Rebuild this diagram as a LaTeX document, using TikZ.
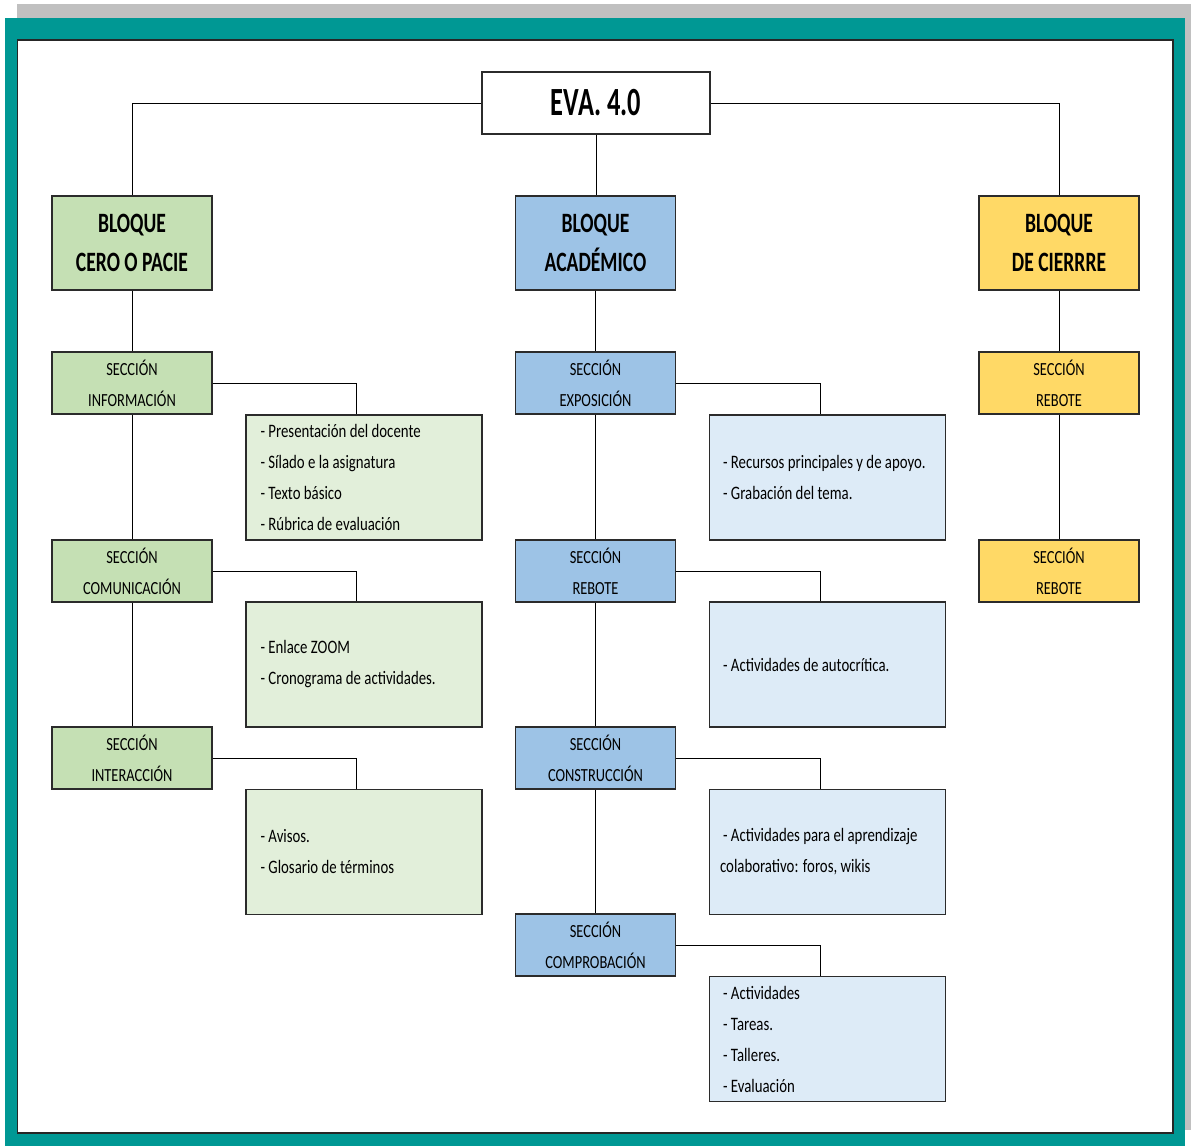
\documentclass[tikz,border=0pt]{standalone}
\usepackage{fontspec}
\setmainfont{Carlito}[FakeStretch=0.78]
\newfontfamily\blfont{Carlito}[FakeStretch=0.70]
\newfontfamily\evafont{Carlito}[FakeStretch=0.66]
\definecolor{greyc}{HTML}{C0C0C0}
\definecolor{tealc}{HTML}{009894}
\definecolor{gdark}{HTML}{C5E0B4}
\definecolor{glight}{HTML}{E2EFDA}
\definecolor{bdark}{HTML}{9DC3E6}
\definecolor{blight}{HTML}{DDEBF7}
\definecolor{ydark}{HTML}{FFD966}
\definecolor{edgec}{HTML}{2B2B2B}
\begin{document}
\begin{tikzpicture}[x=1pt,y=-1pt,
  box/.style={draw=edgec, line width=1.3pt, rectangle, inner sep=0pt, text=black},
  evabox/.style={box, fill=white, minimum width=228pt, minimum height=62pt, font=\evafont\fontsize{40}{44}\selectfont\bfseries},
  bloque/.style={box, minimum width=160pt, minimum height=94pt, align=center, font=\blfont\fontsize{28}{39}\selectfont\bfseries},
  seccion/.style={box, minimum width=160pt, minimum height=62pt, align=center, font=\fontsize{18.5}{31}\selectfont},
  detalle/.style={box, minimum width=236pt, minimum height=125pt},
  dtext/.style={anchor=west, inner sep=0pt, align=left, font=\fontsize{19}{31}\selectfont},
  link/.style={draw=black, line width=1pt}
]
\useasboundingbox (0,0) rectangle (1191,1146);
\fill[greyc] (17,4) rectangle (1191,1130);
\fill[tealc] (5,18) rectangle (1185,1146);
\draw[fill=white, draw=black!85, line width=1.5pt] (17.5,40) rectangle (1173,1133);

% top
\node[evabox] (eva) at (596,103) {EVA. 4.0};

% bloques
\node[bloque, fill=gdark] (b1) at (132,243) {BLOQUE\\CERO O PACIE};
\node[bloque, fill=bdark] (b2) at (595.5,243) {BLOQUE\\ACADÉMICO};
\node[bloque, fill=ydark] (b3) at (1059,243) {BLOQUE\\DE CIERRRE};

% secciones left
\node[seccion, fill=gdark] (s11) at (132,383) {SECCIÓN\\INFORMACIÓN};
\node[seccion, fill=gdark] (s12) at (132,571) {SECCIÓN\\COMUNICACIÓN};
\node[seccion, fill=gdark] (s13) at (132,758) {SECCIÓN\\INTERACCIÓN};
% secciones center
\node[seccion, fill=bdark] (s21) at (595.5,383) {SECCIÓN\\EXPOSICIÓN};
\node[seccion, fill=bdark] (s22) at (595.5,571) {SECCIÓN\\REBOTE};
\node[seccion, fill=bdark] (s23) at (595.5,758) {SECCIÓN\\CONSTRUCCIÓN};
\node[seccion, fill=bdark] (s24) at (595.5,945) {SECCIÓN\\COMPROBACIÓN};
% secciones right
\node[seccion, fill=ydark] (s31) at (1059,383) {SECCIÓN\\REBOTE};
\node[seccion, fill=ydark] (s32) at (1059,571) {SECCIÓN\\REBOTE};

% detalles left
\node[detalle, fill=glight] (d11) at (364,477.5) {};
\node[detalle, fill=glight] (d12) at (364,664.5) {};
\node[detalle, fill=glight] (d13) at (364,852) {};
% detalles center
\node[detalle, fill=blight] (d21) at (827.5,477.5) {};
\node[detalle, fill=blight] (d22) at (827.5,664.5) {};
\node[detalle, fill=blight] (d23) at (827.5,852) {};
\node[detalle, fill=blight] (d24) at (827.5,1039) {};

% texts
\node[dtext] (t11) at ([xshift=15pt]d11.west) {- Presentación del docente\\- Sílado e la asignatura\\- Texto básico\\- Rúbrica de evaluación};
\node[dtext] (t12) at ([xshift=15pt]d12.west) {- Enlace ZOOM\\- Cronograma de actividades.};
\node[dtext] (t13) at ([xshift=15pt]d13.west) {- Avisos.\\- Glosario de términos};
\node[dtext] (t21) at ([xshift=14pt]d21.west) {- Recursos principales y de apoyo.\\- Grabación del tema.};
\node[dtext] (t22) at ([xshift=14pt]d22.west) {- Actividades de autocrítica.};
\node[dtext] (t23) at ([xshift=11pt]d23.west) {\hspace*{3pt}- Actividades para el aprendizaje\\colaborativo: foros, wikis};
\node[dtext] (t24) at ([xshift=14pt]d24.west) {- Actividades\\- Tareas.\\- Talleres.\\- Evaluación};

% connectors from top
\draw[link] (eva.west) -| (b1.north);
\draw[link] (eva.east) -| (b3.north);
\draw[link] (eva.south) -- (eva.south |- b2.north);

% vertical chains
\draw[link] (b1.south) -- (s11.north);
\draw[link] (s11.south) -- (s12.north);
\draw[link] (s12.south) -- (s13.north);
\draw[link] (b2.south) -- (s21.north);
\draw[link] (s21.south) -- (s22.north);
\draw[link] (s22.south) -- (s23.north);
\draw[link] (s23.south) -- (s24.north);
\draw[link] (b3.south) -- (s31.north);
\draw[link] (s31.south) -- (s32.north);

% section to detail
\draw[link] (s11.east) -| ([xshift=-7.5pt]d11.north);
\draw[link] (s12.east) -| ([xshift=-7.5pt]d12.north);
\draw[link] (s13.east) -| ([xshift=-7.5pt]d13.north);
\draw[link] (s21.east) -| ([xshift=-7.5pt]d21.north);
\draw[link] (s22.east) -| ([xshift=-7.5pt]d22.north);
\draw[link] (s23.east) -| ([xshift=-7.5pt]d23.north);
\draw[link] (s24.east) -| ([xshift=-7.5pt]d24.north);
\end{tikzpicture}
\end{document}
